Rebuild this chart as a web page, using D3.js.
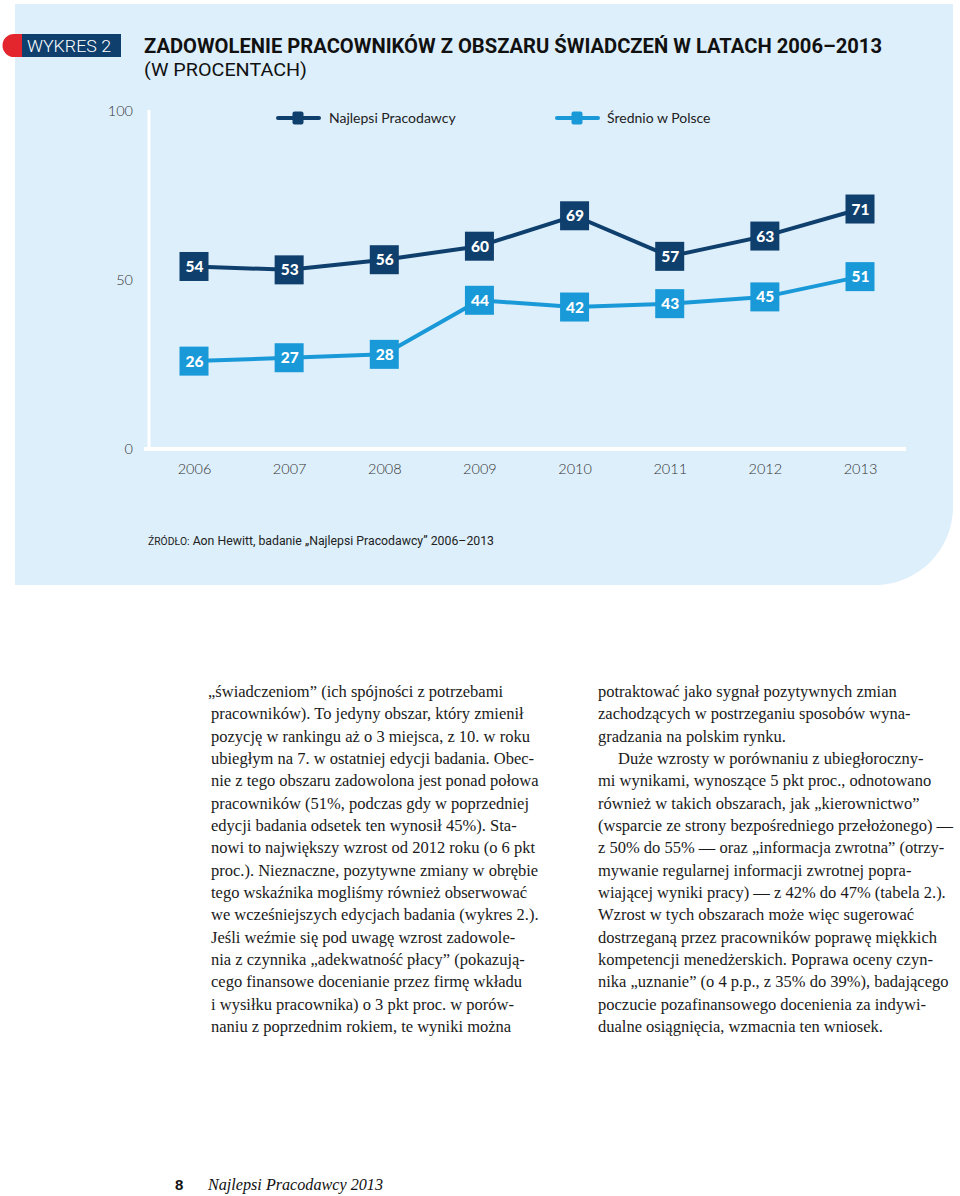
<!DOCTYPE html>
<html><head><meta charset="utf-8">
<script src="https://cdn.jsdelivr.net/npm/d3@7"></script>
<style>
html,body{margin:0;padding:0;background:#fff;}
svg{display:block;}
</style></head>
<body>
<script>
const years = [2006, 2007, 2008, 2009, 2010, 2011, 2012, 2013];
const bestEmployers = [54, 53, 56, 60, 69, 57, 63, 71];
const polandAverage = [26, 27, 28, 44, 42, 43, 45, 51];
const yTicks = [0, 50, 100];
const seriesNames = ["Najlepsi Pracodawcy", "Średnio w Polsce"];
const chartLabel = "WYKRES 2";
const titleLine1 = "ZADOWOLENIE PRACOWNIKÓW Z OBSZARU ŚWIADCZEŃ W LATACH 2006–2013";
const titleLine2 = "(W PROCENTACH)";
const sourcePrefix = "ŹRÓDŁO:";
const sourceText = " Aon Hewitt, badanie „Najlepsi Pracodawcy” 2006–2013";

const leftColumn = [
 "„świadczeniom” (ich spójności z potrzebami",
 "pracowników). To jedyny obszar, który zmienił",
 "pozycję w rankingu aż o 3 miejsca, z 10. w roku",
 "ubiegłym na 7. w ostatniej edycji badania. Obec-",
 "nie z tego obszaru zadowolona jest ponad połowa",
 "pracowników (51%, podczas gdy w poprzedniej",
 "edycji badania odsetek ten wynosił 45%). Sta-",
 "nowi to największy wzrost od 2012 roku (o 6 pkt",
 "proc.). Nieznaczne, pozytywne zmiany w obrębie",
 "tego wskaźnika mogliśmy również obserwować",
 "we wcześniejszych edycjach badania (wykres 2.).",
 "Jeśli weźmie się pod uwagę wzrost zadowole-",
 "nia z czynnika „adekwatność płacy” (pokazują-",
 "cego finansowe docenianie przez firmę wkładu",
 "i wysiłku pracownika) o 3 pkt proc. w porów-",
 "naniu z poprzednim rokiem, te wyniki można"
];
const rightColumn = [
 "potraktować jako sygnał pozytywnych zmian",
 "zachodzących w postrzeganiu sposobów wyna-",
 "gradzania na polskim rynku.",
 "Duże wzrosty w porównaniu z ubiegłoroczny-",
 "mi wynikami, wynoszące 5 pkt proc., odnotowano",
 "również w takich obszarach, jak „kierownictwo”",
 "(wsparcie ze strony bezpośredniego przełożonego) —",
 "z 50% do 55% — oraz „informacja zwrotna” (otrzy-",
 "mywanie regularnej informacji zwrotnej popra-",
 "wiającej wyniki pracy) — z 42% do 47% (tabela 2.).",
 "Wzrost w tych obszarach może więc sugerować",
 "dostrzeganą przez pracowników poprawę miękkich",
 "kompetencji menedżerskich. Poprawa oceny czyn-",
 "nika „uznanie” (o 4 p.p., z 35% do 39%), badającego",
 "poczucie pozafinansowego docenienia za indywi-",
 "dualne osiągnięcia, wzmacnia ten wniosek."
];
const pageNumber = "8";
const footerTitle = "Najlepsi Pracodawcy 2013";

const W = 960, H = 1196;
const NAVY = "#0f3f6d", SKY = "#1999d8", PANEL = "#ddeffb";

const svg = d3.select("body").append("svg").attr("width", W).attr("height", H);

// panel with rounded bottom-right corner
const px0 = 15, py0 = 4, px1 = 953, py1 = 585, r = 78;
svg.append("path")
  .attr("d", `M${px0},${py0}H${px1}V${py1 - r}A${r},${r} 0 0 1 ${px1 - r},${py1}H${px0}Z`)
  .attr("fill", PANEL);

// chart label
svg.append("path").attr("d", "M22,34 H14 A11.5,11.5 0 0 0 14,57 H22 Z").attr("fill", "#e3262d");
svg.append("rect").attr("x", 22).attr("y", 34).attr("width", 99).attr("height", 23).attr("fill", NAVY);
svg.append("text").attr("x", 27).attr("y", 52).attr("fill", "#fff")
  .attr("font-family", "Roboto").attr("font-weight", 300).attr("font-size", 16)
  .attr("textLength", 84).attr("lengthAdjust", "spacingAndGlyphs").text(chartLabel);

svg.append("text").attr("x", 144).attr("y", 53).attr("fill", "#111")
  .attr("font-family", "Roboto").attr("font-weight", 700).attr("font-size", 21)
  .attr("textLength", 738).attr("lengthAdjust", "spacingAndGlyphs").text(titleLine1);
svg.append("text").attr("x", 144).attr("y", 76).attr("fill", "#111")
  .attr("font-family", "Roboto").attr("font-weight", 400).attr("font-size", 18.5)
  .attr("textLength", 163).attr("lengthAdjust", "spacingAndGlyphs").text(titleLine2);

// scales
const x = d3.scaleLinear().domain([years[0], years[years.length - 1]]).range([194, 860]);
const y = d3.scaleLinear().domain([0, 100]).range([449, 111]);

// axes lines
svg.append("line").attr("x1", 149).attr("x2", 149).attr("y1", y(100) - 1).attr("y2", y(0))
  .attr("stroke", "#fff").attr("stroke-width", 3);
svg.append("line").attr("x1", 144).attr("x2", 906).attr("y1", y(0)).attr("y2", y(0))
  .attr("stroke", "#fff").attr("stroke-width", 4);

// y tick labels via axis
const yAxis = d3.axisLeft(y).tickValues(yTicks).tickSize(0).tickPadding(0);
const yg = svg.append("g").attr("transform", "translate(133,0)").call(yAxis);
yg.select(".domain").remove();
yg.selectAll("text").attr("font-family", "Lato").attr("font-weight", 300).attr("font-size", 14.5).attr("fill", "#333");

// x tick labels via axis
const xAxis = d3.axisBottom(x).tickValues(years).tickFormat(d3.format("d")).tickSize(0).tickPadding(0);
const xg = svg.append("g").attr("transform", "translate(0,464)").call(xAxis);
xg.select(".domain").remove();
xg.selectAll("text").attr("font-family", "Lato").attr("font-weight", 300).attr("font-size", 14.5).attr("fill", "#333");

// series
const line = d3.line().x((d, i) => x(years[i])).y(d => y(d));
const series = [
  { name: seriesNames[0], values: bestEmployers, color: NAVY },
  { name: seriesNames[1], values: polandAverage, color: SKY }
];
series.forEach(s => {
  svg.append("path").attr("d", line(s.values)).attr("fill", "none")
    .attr("stroke", s.color).attr("stroke-width", 4).attr("stroke-linejoin", "round");
  const g = svg.append("g");
  const m = 14.5;
  g.selectAll("rect").data(s.values).join("rect")
    .attr("x", (d, i) => x(years[i]) - m).attr("y", d => y(d) - m)
    .attr("width", 2 * m).attr("height", 2 * m).attr("fill", s.color);
  g.selectAll("text").data(s.values).join("text")
    .attr("x", (d, i) => x(years[i]) + 0.5).attr("y", d => y(d) + 5.5)
    .attr("text-anchor", "middle").attr("fill", "#fff")
    .attr("font-family", "Lato").attr("font-weight", 900).attr("font-size", 15.5)
    .text(d => d);
});

// legend
const legendPos = [{ x: 277, tx: 329 }, { x: 556, tx: 607 }];
series.forEach((s, i) => {
  const lg = svg.append("g").attr("transform", `translate(${legendPos[i].x},118)`);
  lg.append("line").attr("x1", 1).attr("x2", 42).attr("y1", 0).attr("y2", 0)
    .attr("stroke", s.color).attr("stroke-width", 4).attr("stroke-linecap", "round");
  lg.append("rect").attr("x", 15.5).attr("y", -6.5).attr("width", 11).attr("height", 13)
    .attr("rx", 2).attr("fill", s.color);
  svg.append("text").attr("x", legendPos[i].tx).attr("y", 123).attr("fill", "#222")
    .attr("font-family", "Lato").attr("font-size", 14).text(s.name);
});

// source
const src = svg.append("text").attr("x", 148).attr("y", 545).attr("fill", "#222")
  .attr("font-family", "Roboto").attr("font-size", 12.5)
  .attr("textLength", 346).attr("lengthAdjust", "spacingAndGlyphs");
src.append("tspan").attr("font-size", 10.5).text(sourcePrefix);
src.append("tspan").text(sourceText);

// body text columns
const bodyFont = "Liberation Serif";
function fitSize(str, target) {
  const p = svg.append("text").attr("font-family", bodyFont).attr("font-size", 20).text(str);
  const w = p.node().getComputedTextLength();
  p.remove();
  return 20 * target / w;
}
const fs = Math.min(
  fitSize(leftColumn[4], 349),
  fitSize(leftColumn[8], 349),
  fitSize(rightColumn[6], 358),
  fitSize(rightColumn[13], 353),
  fitSize(rightColumn[9], 348),
  fitSize(rightColumn[11], 348)
);
const lh = 22.33;
function column(lines, x0, indents) {
  svg.append("g").selectAll("text").data(lines).join("text")
    .attr("x", (d, i) => x0 + (indents[i] || 0))
    .attr("y", (d, i) => 697 + i * lh)
    .attr("fill", "#1a1a1a").attr("font-family", bodyFont).attr("font-size", fs)
    .text(d => d);
}
column(leftColumn, 211, { 0: -3 });
column(rightColumn, 598, { 3: 20 });

// footer
svg.append("text").attr("x", 175).attr("y", 1190).attr("fill", "#111")
  .attr("font-family", "Liberation Sans").attr("font-weight", 700).attr("font-size", 15).text(pageNumber);
svg.append("text").attr("x", 208).attr("y", 1190).attr("fill", "#111")
  .attr("font-family", "Liberation Serif").attr("font-style", "italic").attr("font-size", 17)
  .attr("textLength", 175).attr("lengthAdjust", "spacingAndGlyphs").text(footerTitle);
</script>
</body></html>
